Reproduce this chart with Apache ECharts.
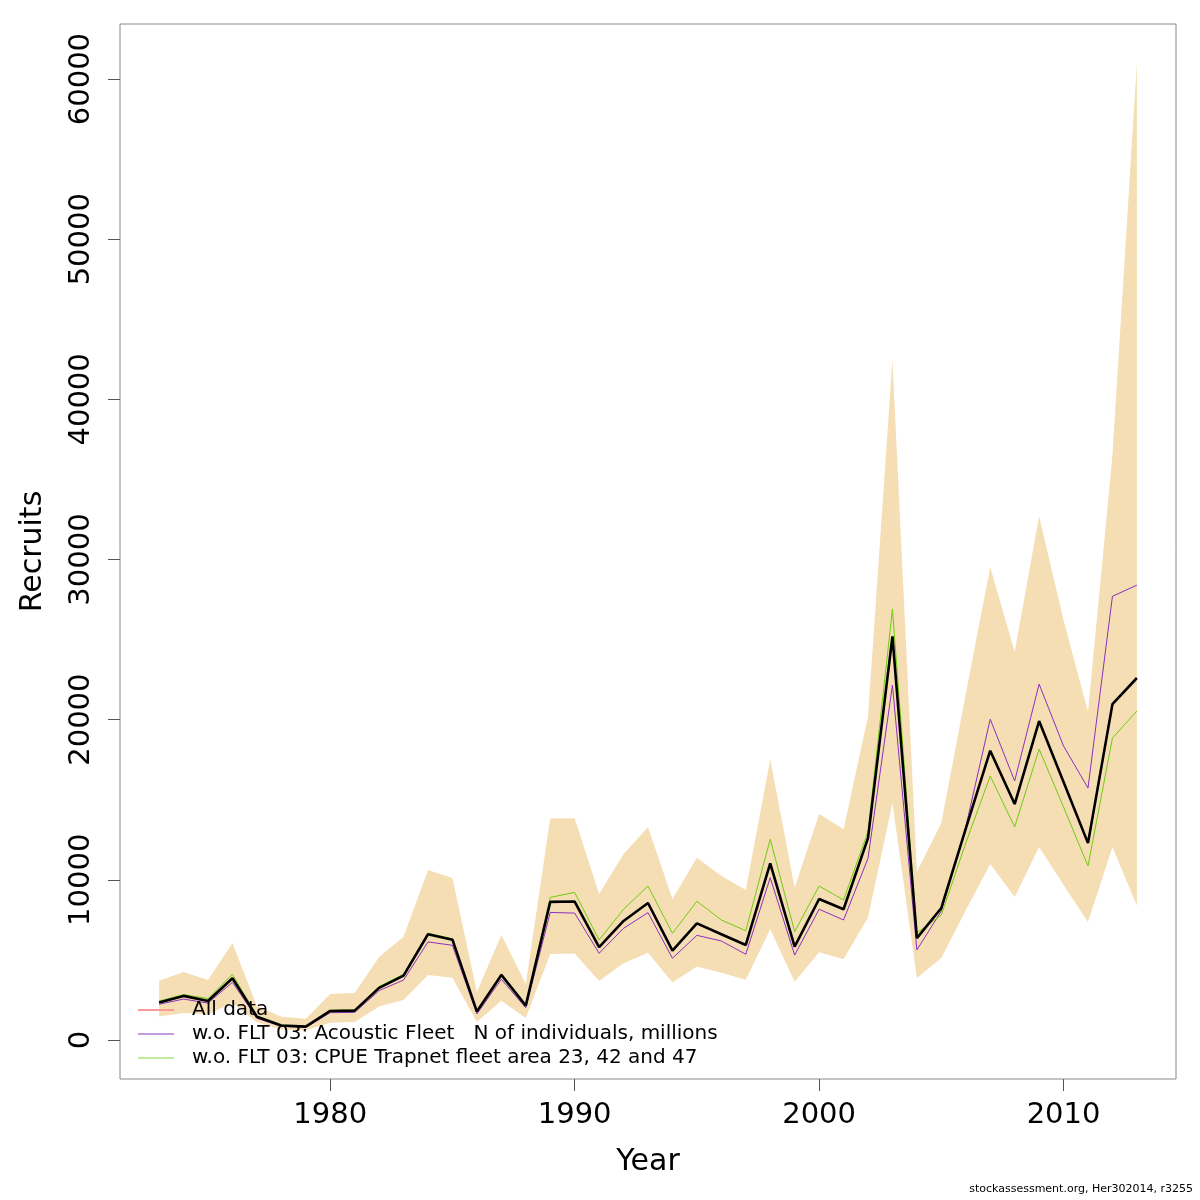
<!DOCTYPE html>
<html>
<head>
<meta charset="utf-8">
<script src="https://cdn.jsdelivr.net/npm/echarts@6/dist/echarts.min.js"></script>
<style>
  html, body { margin: 0; padding: 0; background: #fff; }
  #chart { width: 1200px; height: 1200px; }
</style>
</head>
<body>
<div id="chart"></div>
<script>
// years of the assessment
const years = [
  1973, 1974, 1975, 1976, 1977, 1978, 1979, 1980, 1981, 1982,
  1983, 1984, 1985, 1986, 1987, 1988, 1989, 1990, 1991, 1992,
  1993, 1994, 1995, 1996, 1997, 1998, 1999, 2000, 2001, 2002,
  2003, 2004, 2005, 2006, 2007, 2008, 2009, 2010, 2011, 2012, 2013
];

// All data: estimate and confidence band
const recruits = [
  2330, 2750, 2430, 3850, 1450, 900, 830, 1810, 1830, 3250,
  4010, 6600, 6260, 1770, 4060, 2140, 8620, 8640, 5790, 7430,
  8550, 5580, 7280, 6600, 5930, 11030, 5830, 8800, 8160, 12600,
  25200, 6360, 8240, 13200, 18060, 14730, 19910, 16100, 12290, 20970, 22600
];
const recruitsLow = [
  1460, 1680, 1600, 2300, 1100, 650, 600, 1080, 1120, 2080,
  2500, 4060, 3890, 1120, 2450, 1370, 5370, 5390, 3680, 4790,
  5450, 3580, 4580, 4200, 3750, 6910, 3640, 5470, 5040, 7650,
  14790, 3870, 5120, 8100, 10990, 8930, 12050, 9680, 7370, 12050, 8380
];
const recruitsHigh = [
  3700, 4240, 3740, 6050, 2100, 1450, 1330, 2870, 2930, 5180,
  6450, 10610, 10110, 3000, 6550, 3500, 13830, 13850, 9110, 11610,
  13280, 8800, 11380, 10240, 9360, 17520, 9510, 14110, 13150, 20200,
  42470, 10490, 13540, 21600, 29530, 24220, 32700, 26200, 20500, 36500, 61000
];

// leave-one-out runs
const woAcoustic = [
  2230, 2550, 2300, 3600, 1350, 850, 780, 1700, 1720, 3080,
  3740, 6120, 5910, 1620, 3790, 2010, 7960, 7920, 5410, 6970,
  7950, 5100, 6530, 6180, 5350, 10130, 5300, 8160, 7490, 11340,
  22160, 5620, 8050, 13300, 20030, 16170, 22220, 18350, 15730, 27700, 28400
];
const woTrapnet = [
  2430, 2830, 2580, 4100, 1500, 920, 850, 1850, 1880, 3330,
  4100, 6660, 6320, 1800, 4130, 2180, 8900, 9210, 6240, 8160,
  9610, 6660, 8660, 7490, 6820, 12530, 6760, 9610, 8740, 13000,
  26900, 6680, 7800, 12300, 16480, 13300, 18160, 14540, 10860, 18850, 20540
];

const yTicks = [0, 10000, 20000, 30000, 40000, 50000, 60000];
const xTicks = [1980, 1990, 2000, 2010];

const seriesNames = [
  'All data',
  'w.o. FLT 03: Acoustic Fleet   N of individuals, millions',
  'w.o. FLT 03: CPUE Trapnet fleet area 23, 42 and 47'
];

const pairs = vals => years.map((y, i) => [y, vals[i]]);
const FONT = 'DejaVu Sans';

// confidence band drawn as one polygon: upper edge forwards, lower edge back
function renderBand(params, api) {
  if (params.dataIndex !== 0) return null;
  const pts = [];
  for (let i = 0; i < years.length; i++) pts.push(api.coord([years[i], recruitsHigh[i]]));
  for (let i = years.length - 1; i >= 0; i--) pts.push(api.coord([years[i], recruitsLow[i]]));
  return {
    type: 'polygon',
    shape: { points: pts },
    style: { fill: '#F5DEB3', stroke: null }
  };
}

const chart = echarts.init(document.getElementById('chart'));
chart.setOption({
  animation: false,
  backgroundColor: '#fff',
  grid: {
    left: 120, right: 24, top: 24, bottom: 121,
    show: true, borderColor: '#888', borderWidth: 1, backgroundColor: '#fff'
  },
  xAxis: {
    type: 'value',
    min: 1971.4,
    max: 2014.6,
    name: 'Year',
    nameLocation: 'middle',
    nameGap: 68,
    nameTextStyle: { fontFamily: FONT, fontSize: 30, color: '#000' },
    axisLine: { show: false, onZero: false },
    splitLine: { show: false },
    axisTick: { show: true, length: 12, lineStyle: { color: '#555' }, customValues: xTicks },
    axisLabel: {
      fontFamily: FONT, fontSize: 29, color: '#000', margin: 22,
      customValues: xTicks, formatter: v => String(v)
    }
  },
  yAxis: {
    type: 'value',
    min: -2440,
    max: 63440,
    name: 'Recruits',
    nameLocation: 'middle',
    nameRotate: 90,
    nameGap: 72,
    nameTextStyle: { fontFamily: FONT, fontSize: 30, color: '#000' },
    axisLine: { show: false, onZero: false },
    splitLine: { show: false },
    axisTick: { show: true, length: 12, lineStyle: { color: '#555' }, customValues: yTicks },
    axisLabel: {
      fontFamily: FONT, fontSize: 29, color: '#000', rotate: 90, margin: 24,
      customValues: yTicks, formatter: v => String(v)
    }
  },
  legend: {
    orient: 'vertical',
    left: 133,
    top: 995,
    itemWidth: 36,
    itemHeight: 2,
    itemGap: 4,
    icon: 'rect',
    textStyle: { fontFamily: FONT, fontSize: 20, color: '#000', padding: [0, 0, 0, 13] },
    data: [
      { name: seriesNames[0], itemStyle: { color: '#F89A9A' } },
      { name: seriesNames[1], itemStyle: { color: '#C49BDF' } },
      { name: seriesNames[2], itemStyle: { color: '#C5EC9C' } }
    ]
  },
  graphic: [{
    type: 'text',
    right: 7,
    bottom: 5,
    style: { text: 'stockassessment.org, Her302014, r3255', fontFamily: FONT, fontSize: 11, fill: '#000' }
  }],
  series: [
    {
      name: 'ci', type: 'custom', silent: true,
      renderItem: renderBand,
      data: years.map((y, i) => [y, recruitsLow[i], recruitsHigh[i]]),
      encode: { x: 0, y: [1, 2] },
      z: 1
    },
    {
      name: seriesNames[1], type: 'line', symbol: 'none', z: 2,
      data: pairs(woAcoustic),
      lineStyle: { color: '#8B2FC0', width: 1 }, itemStyle: { color: '#8B2FC0' }
    },
    {
      name: seriesNames[2], type: 'line', symbol: 'none', z: 2,
      data: pairs(woTrapnet),
      lineStyle: { color: '#70CC10', width: 1 }, itemStyle: { color: '#70CC10' }
    },
    {
      name: seriesNames[0], type: 'line', symbol: 'none', z: 3,
      data: pairs(recruits),
      lineStyle: { color: '#000', width: 2.6 }, itemStyle: { color: '#000' }
    }
  ]
});
</script>
</body>
</html>
